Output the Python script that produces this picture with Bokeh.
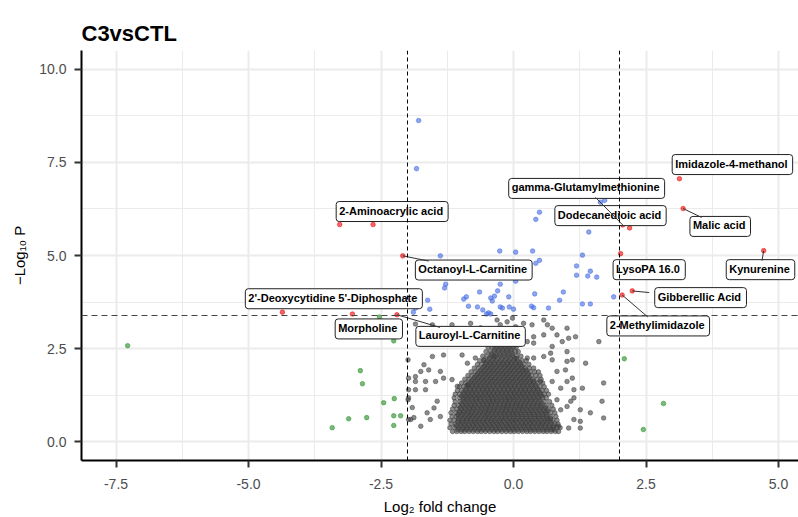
import math
from bokeh.plotting import figure
from bokeh.models import (Span, Range1d, FixedTicker, PrintfTickFormatter, ColumnDataSource,
                          LinearAxis)
from bokeh.embed import file_html
from bokeh.resources import INLINE
from bokeh.core.properties import value

# ---------------- data ----------------
title_text = "C3vsCTL"
x_label = "Log\u2082 fold change"
y_label = "\u2212Log\u2081\u2080 P"
x_ticks = [-7.5, -5.0, -2.5, 0.0, 2.5, 5.0]
x_minor = [-6.25, -3.75, -1.25, 1.25, 3.75]
y_ticks = [0.0, 2.5, 5.0, 7.5, 10.0]
y_minor = [1.25, 3.75, 6.25, 8.75]
fc_cutoff = 2.0
p_cutoff = 3.39

# significant (red): |log2FC| > 2 and -log10 P above cutoff
sig_names = ["", "2-Aminoacrylic acid", "Octanoyl-L-Carnitine",
             "2'-Deoxycytidine 5'-Diphosphate", "Morpholine", "Lauroyl-L-Carnitine",
             "Imidazole-4-methanol", "Malic acid", "gamma-Glutamylmethionine",
             "Dodecanedioic acid", "LysoPA 16.0", "Kynurenine", "Gibberellic Acid",
             "2-Methylimidazole"]
sig_x = [-3.28, -2.65, -2.09, -4.36, -3.04, -2.20, 3.13, 3.20, 2.06, 2.19, 2.02, 4.72, 2.24, 2.05]
sig_y = [5.83, 5.83, 4.99, 3.48, 3.43, 3.41, 7.06, 6.26, 5.82, 5.74, 5.05, 5.13, 4.05, 3.94]

# label box centres (layout of the repelled labels)
label_x = [None, -2.29, -0.75, -3.39, -2.73, -0.81, 4.13, 3.90, 1.38, 1.83, 2.56, 4.66, 3.53, 2.73]
label_y = [None, 6.18, 4.61, 3.84, 3.03, 2.83, 7.44, 5.78, 6.80, 6.07, 4.62, 4.62, 3.87, 3.11]

# P significant only (blue)
p_only_x = [-1.79, -1.83, 0.49, 0.42, 1.72, 1.64, 1.42, -1.38, -0.26, 0.04, 0.36, 0.49, 0.42,
            1.30, 1.19, 1.45, 1.19, 1.57, 0.04, -1.28, -1.30, -0.25, -0.64, -0.30, -0.36, 0.40,
            0.94, 0.87, 1.30, 1.45, 1.89, -0.94, -0.89, -0.85, -0.68, -0.58, -0.43, -0.40,
            -0.25, -0.21, -0.08, 0.00, 0.34, 0.38, 0.66, -1.62, -1.58, -1.89, -0.47, -0.43,
            -1.85, 1.40, -0.09, -0.51]
p_only_y = [8.62, 7.33, 6.16, 5.97, 6.48, 6.43, 5.63, 4.99, 5.12, 5.09, 5.12, 4.87, 4.79,
            5.01, 4.72, 4.58, 4.47, 4.42, 4.31, 4.23, 4.13, 4.23, 4.02, 4.05, 3.91, 3.97,
            4.02, 3.80, 3.70, 3.70, 3.89, 3.83, 3.89, 3.64, 3.62, 3.54, 3.86, 3.78,
            3.62, 3.59, 3.62, 3.56, 3.64, 3.60, 3.59, 3.80, 3.56, 3.48, 3.46, 3.43,
            3.59, 4.45, 3.89, 3.43]

# fold change only (green)
fc_only_x = [-7.28, -2.53, -2.26, -2.89, -2.85, -2.45, -2.25, -2.26, -2.13, -2.77, -3.11,
             -3.42, -2.26, 2.09, 2.83, 2.45]
fc_only_y = [2.58, 3.35, 2.71, 1.91, 1.56, 1.05, 1.16, 0.70, 0.70, 0.65, 0.62,
             0.38, 0.44, 2.23, 1.03, 0.33]

# not significant (grey): scattered outer points
ns_outer = [(-1.85, 3.16), (-1.53, 3.14), (-1.16, 3.14), (-1.13, 2.92), (-0.81, 3.18),
            (-0.62, 3.06), (-0.31, 3.27), (-0.25, 3.14), (-0.12, 3.22), (-0.02, 3.32),
            (0.04, 3.09), (0.19, 3.18), (0.35, 3.14), (0.38, 2.82), (0.57, 3.27),
            (0.64, 3.14), (0.73, 3.05), (0.57, 2.87), (0.82, 2.87), (1.01, 3.05),
            (1.04, 2.78), (0.92, 2.69), (1.17, 2.82), (1.61, 2.69), (0.38, 2.65),
            (0.26, 2.69), (0.73, 2.56), (-1.99, 2.20), (-1.53, 2.29), (-1.32, 2.33),
            (-0.97, 2.33), (-0.87, 2.11), (-0.72, 2.25), (-0.56, 2.20), (-0.37, 2.29),
            (0.26, 2.25), (0.38, 2.25), (0.57, 2.29), (0.70, 2.38), (0.73, 2.20),
            (1.01, 2.42), (1.11, 2.20), (1.01, 2.16), (1.36, 2.11), (-1.69, 2.07),
            (-1.75, 1.89), (-1.85, 1.75), (-1.60, 1.93), (-1.38, 1.89), (-1.32, 1.71),
            (-1.16, 1.67), (-1.47, 1.62), (-1.66, 1.62), (-1.85, 1.62), (-1.98, 1.40),
            (-1.85, 1.40), (-1.66, 1.40), (-1.06, 1.49), (-0.87, 1.53), (0.51, 1.62),
            (0.73, 1.62), (0.89, 1.44), (1.01, 1.62), (1.11, 1.71), (1.14, 1.40),
            (1.30, 1.44), (1.70, 1.58), (0.98, 1.93), (0.82, 1.89), (-1.99, 1.13),
            (-1.91, 0.92), (-1.88, 0.65), (-1.94, 0.60), (-1.75, 0.42), (-1.63, 0.78),
            (-1.50, 0.91), (-1.44, 1.09), (-1.38, 0.68), (-1.57, 0.60), (0.82, 1.13),
            (0.89, 0.86), (1.01, 0.95), (1.08, 1.09), (1.14, 1.18), (1.26, 0.86),
            (1.14, 0.60), (1.26, 0.55), (1.45, 0.78), (1.67, 1.09), (1.70, 0.64),
            (1.26, 0.37), (1.04, 0.37), (0.76, 0.33), (0.85, 0.42), (-1.98, 1.71),
            (-1.98, 1.18), (-1.98, 0.60)]

# not significant (grey): dense core, read row by row (-log10 P, list of log2 FC)
ns_core_rows = [
    (0.28, [-1.15, -1.07, -0.99, -0.92, -0.84, -0.76, -0.68, -0.61, -0.53, -0.45, -0.37, -0.30, -0.22,
            -0.14, -0.06, 0.01, 0.09, 0.17, 0.25, 0.32, 0.40, 0.48, 0.56, 0.63, 0.71, 0.79, 0.85]),
    (0.38, [-1.20, -1.11, -1.03, -0.95, -0.88, -0.80, -0.72, -0.64, -0.57, -0.49, -0.41, -0.33, -0.26,
            -0.18, -0.10, -0.02, 0.05, 0.13, 0.21, 0.29, 0.36, 0.44, 0.52, 0.60, 0.67, 0.75, 0.82, 0.88]),
    (0.48, [-1.18, -1.10, -1.01, -0.93, -0.85, -0.77, -0.70, -0.62, -0.54, -0.46, -0.39, -0.31, -0.23,
            -0.15, -0.08, 0.00, 0.08, 0.16, 0.23, 0.31, 0.39, 0.47, 0.54, 0.62, 0.70, 0.78, 0.84]),
    (0.58, [-1.20, -1.12, -1.04, -0.96, -0.88, -0.81, -0.73, -0.65, -0.57, -0.50, -0.42, -0.34, -0.26,
            -0.19, -0.11, -0.03, 0.04, 0.12, 0.20, 0.28, 0.35, 0.43, 0.51, 0.59, 0.66, 0.74, 0.82]),
    (0.68, [-1.16, -1.08, -1.00, -0.92, -0.84, -0.77, -0.69, -0.61, -0.53, -0.46, -0.38, -0.30, -0.22,
            -0.15, -0.07, 0.01, 0.09, 0.16, 0.24, 0.32, 0.40, 0.47, 0.55, 0.63, 0.71, 0.80]),
    (0.78, [-1.18, -1.09, -1.02, -0.94, -0.86, -0.79, -0.71, -0.63, -0.55, -0.48, -0.40, -0.32, -0.24,
            -0.17, -0.09, -0.01, 0.06, 0.14, 0.22, 0.30, 0.37, 0.45, 0.53, 0.61, 0.70, 0.78]),
    (0.88, [-1.15, -1.07, -0.99, -0.91, -0.83, -0.76, -0.68, -0.60, -0.52, -0.45, -0.37, -0.29, -0.21,
            -0.14, -0.06, 0.02, 0.10, 0.17, 0.25, 0.33, 0.41, 0.49, 0.57, 0.66, 0.75]),
    (0.98, [-1.12, -1.04, -0.96, -0.88, -0.80, -0.73, -0.65, -0.57, -0.49, -0.42, -0.34, -0.26, -0.18,
            -0.11, -0.03, 0.05, 0.12, 0.20, 0.28, 0.36, 0.44, 0.52, 0.62, 0.72]),
    (1.08, [-1.10, -1.01, -0.93, -0.85, -0.77, -0.70, -0.62, -0.54, -0.46, -0.39, -0.31, -0.23, -0.15,
            -0.08, 0.00, 0.08, 0.16, 0.24, 0.32, 0.40, 0.49, 0.58, 0.68]),
    (1.18, [-1.12, -1.02, -0.94, -0.86, -0.78, -0.70, -0.63, -0.55, -0.47, -0.40, -0.32, -0.24, -0.16,
            -0.09, -0.01, 0.07, 0.15, 0.23, 0.31, 0.39, 0.47, 0.55, 0.62]),
    (1.28, [-1.10, -1.02, -0.94, -0.86, -0.78, -0.70, -0.62, -0.54, -0.46, -0.38, -0.30, -0.22, -0.14,
            -0.06, 0.02, 0.10, 0.18, 0.26, 0.34, 0.42, 0.50, 0.58, 0.66]),
    (1.38, [-1.06, -0.98, -0.90, -0.82, -0.74, -0.66, -0.58, -0.50, -0.42, -0.34, -0.26, -0.18, -0.10,
            -0.02, 0.06, 0.14, 0.22, 0.30, 0.38, 0.46, 0.54, 0.62]),
    (1.48, [-1.02, -0.94, -0.86, -0.78, -0.70, -0.62, -0.54, -0.46, -0.38, -0.30, -0.22, -0.14, -0.06,
            0.02, 0.10, 0.18, 0.26, 0.34, 0.42, 0.50, 0.58]),
    (1.58, [-0.98, -0.90, -0.82, -0.74, -0.66, -0.58, -0.50, -0.42, -0.34, -0.26, -0.18, -0.10, -0.02,
            0.06, 0.14, 0.22, 0.30, 0.38, 0.46, 0.55]),
    (1.68, [-0.92, -0.84, -0.76, -0.68, -0.60, -0.52, -0.44, -0.36, -0.28, -0.20, -0.12, -0.04, 0.04,
            0.12, 0.20, 0.28, 0.36, 0.44, 0.52]),
    (1.78, [-0.86, -0.78, -0.70, -0.62, -0.54, -0.46, -0.38, -0.30, -0.22, -0.14, -0.06, 0.02, 0.10,
            0.18, 0.26, 0.34, 0.42, 0.50]),
    (1.88, [-0.80, -0.72, -0.64, -0.56, -0.48, -0.40, -0.32, -0.24, -0.16, -0.08, 0.00, 0.08, 0.16,
            0.24, 0.32, 0.40, 0.47]),
    (1.98, [-0.74, -0.66, -0.58, -0.50, -0.42, -0.34, -0.26, -0.18, -0.10, -0.02, 0.06, 0.14, 0.22,
            0.30, 0.38]),
    (2.08, [-0.68, -0.60, -0.52, -0.44, -0.36, -0.28, -0.20, -0.12, -0.04, 0.04, 0.12, 0.20, 0.29]),
    (2.18, [-0.64, -0.56, -0.48, -0.40, -0.32, -0.24, -0.16, -0.08, 0.00, 0.08, 0.16, 0.24]),
    (2.30, [-0.58, -0.50, -0.42, -0.34, -0.26, -0.18, -0.10, -0.02, 0.06, 0.14]),
    (2.42, [-0.52, -0.44, -0.36, -0.28, -0.20, -0.12, -0.04, 0.04, 0.09]),
    (2.54, [-0.48, -0.40, -0.32, -0.24, -0.16, -0.08, 0.00, 0.05]),
    (2.66, [-0.42, -0.34, -0.26, -0.18, -0.10, -0.02]),
    (2.78, [-0.38, -0.30, -0.22, -0.14, -0.06]),
    (2.90, [-0.34, -0.26, -0.18, -0.10]),
    (3.02, [-0.28, -0.19, -0.11]),
    # second, offset layer inside the core (the dark mass)
    (0.33, [-1.05, -0.97, -0.89, -0.81, -0.73, -0.65, -0.57, -0.49, -0.41, -0.33, -0.25, -0.17,
            -0.09, -0.01, 0.07, 0.15, 0.23, 0.31, 0.39, 0.47, 0.55, 0.63, 0.71]),
    (0.43, [-1.08, -1.00, -0.92, -0.84, -0.76, -0.68, -0.60, -0.52, -0.44, -0.36, -0.28, -0.20,
            -0.12, -0.04, 0.04, 0.12, 0.20, 0.28, 0.36, 0.44, 0.52, 0.60, 0.68, 0.76]),
    (0.53, [-1.05, -0.97, -0.89, -0.81, -0.73, -0.65, -0.57, -0.49, -0.41, -0.33, -0.25, -0.17,
            -0.09, -0.01, 0.07, 0.15, 0.23, 0.31, 0.39, 0.47, 0.55, 0.63, 0.71]),
    (0.63, [-1.04, -0.96, -0.88, -0.80, -0.72, -0.64, -0.56, -0.48, -0.40, -0.32, -0.24, -0.16,
            -0.08, 0.00, 0.08, 0.16, 0.24, 0.32, 0.40, 0.48, 0.56, 0.64, 0.70]),
    (0.73, [-1.05, -0.97, -0.89, -0.81, -0.73, -0.65, -0.57, -0.49, -0.41, -0.33, -0.25, -0.17,
            -0.09, -0.01, 0.07, 0.15, 0.23, 0.31, 0.39, 0.47, 0.55, 0.63]),
    (0.83, [-1.02, -0.94, -0.86, -0.78, -0.70, -0.62, -0.54, -0.46, -0.38, -0.30, -0.22, -0.14,
            -0.06, 0.02, 0.10, 0.18, 0.26, 0.34, 0.42, 0.50, 0.58, 0.65]),
    (0.93, [-1.00, -0.92, -0.84, -0.76, -0.68, -0.60, -0.52, -0.44, -0.36, -0.28, -0.20, -0.12,
            -0.04, 0.04, 0.12, 0.20, 0.28, 0.36, 0.44, 0.52, 0.60]),
    (1.03, [-0.98, -0.90, -0.82, -0.74, -0.66, -0.58, -0.50, -0.42, -0.34, -0.26, -0.18, -0.10,
            -0.02, 0.06, 0.14, 0.22, 0.30, 0.38, 0.46, 0.54]),
    (1.13, [-0.95, -0.87, -0.79, -0.71, -0.63, -0.55, -0.47, -0.39, -0.31, -0.23, -0.15, -0.07,
            0.01, 0.09, 0.17, 0.25, 0.33, 0.41, 0.49]),
    (1.23, [-0.98, -0.90, -0.82, -0.74, -0.66, -0.58, -0.50, -0.42, -0.34, -0.26, -0.18, -0.10,
            -0.02, 0.06, 0.14, 0.22, 0.30, 0.38, 0.46, 0.54]),
    (1.33, [-0.94, -0.86, -0.78, -0.70, -0.62, -0.54, -0.46, -0.38, -0.30, -0.22, -0.14, -0.06,
            0.02, 0.10, 0.18, 0.26, 0.34, 0.42, 0.50]),
    (1.43, [-0.90, -0.82, -0.74, -0.66, -0.58, -0.50, -0.42, -0.34, -0.26, -0.18, -0.10, -0.02,
            0.06, 0.14, 0.22, 0.30, 0.38, 0.46]),
    (1.53, [-0.86, -0.78, -0.70, -0.62, -0.54, -0.46, -0.38, -0.30, -0.22, -0.14, -0.06, 0.02,
            0.10, 0.18, 0.26, 0.34, 0.42]),
    (1.63, [-0.80, -0.72, -0.64, -0.56, -0.48, -0.40, -0.32, -0.24, -0.16, -0.08, 0.00, 0.08,
            0.16, 0.24, 0.32, 0.38]),
    (1.73, [-0.74, -0.66, -0.58, -0.50, -0.42, -0.34, -0.26, -0.18, -0.10, -0.02, 0.06, 0.14,
            0.22, 0.30]),
    (1.83, [-0.68, -0.60, -0.52, -0.44, -0.36, -0.28, -0.20, -0.12, -0.04, 0.04, 0.12, 0.20, 0.28]),
    (1.93, [-0.62, -0.54, -0.46, -0.38, -0.30, -0.22, -0.14, -0.06, 0.02, 0.10, 0.18, 0.24]),
    (2.03, [-0.56, -0.48, -0.40, -0.32, -0.24, -0.16, -0.08, 0.00, 0.08, 0.16]),
    (2.13, [-0.52, -0.44, -0.36, -0.28, -0.20, -0.12, -0.04, 0.04, 0.12]),
    (2.24, [-0.46, -0.38, -0.30, -0.22, -0.14, -0.06, 0.02, 0.06]),
    (2.36, [-0.42, -0.34, -0.26, -0.18, -0.10, -0.02]),
    (2.48, [-0.36, -0.28, -0.20, -0.12, -0.04]),
    (2.60, [-0.32, -0.24, -0.16, -0.08]),
]

ns_x = [pt[0] for pt in ns_outer]
ns_y = [pt[1] for pt in ns_outer]
for ry, xs in ns_core_rows:
    for xv in xs:
        ns_x.append(xv)
        ns_y.append(ry)

# ---------------- figure ----------------
X0, X1 = -8.151, 5.377
Y0, Y1 = -0.5, 10.5
W, H = 798, 517
BL, BR, BT, BB = 81, 0, 50, 56

p = figure(width=W, height=H, output_backend="svg", toolbar_location=None,
           x_range=Range1d(X0, X1), y_range=Range1d(Y0, Y1),
           min_border_left=BL, min_border_right=BR, min_border_top=BT, min_border_bottom=BB,
           title=title_text)
p.outline_line_color = None
p.background_fill_color = "white"
p.border_fill_color = "white"

p.title.text_font = "Liberation Sans"
p.title.text_font_size = "22px"
p.title.text_font_style = "bold"
p.title.text_color = "black"
p.title.align = "left"

sx = (W - BL - BR) / (X1 - X0)
sy = (H - BT - BB) / (Y1 - Y0)

main_x = p.below[0]
main_y = p.left[0]
for ax, ticks, minor, lab, lstand, astand in (
        (main_x, x_ticks, x_minor, x_label, 11, 6),
        (main_y, y_ticks, y_minor, y_label, 8, 8)):
    ax.ticker = FixedTicker(ticks=ticks, minor_ticks=minor)
    ax.formatter = PrintfTickFormatter(format="%.1f")
    ax.axis_label = lab
    ax.axis_label_text_font = "Liberation Sans"
    ax.axis_label_text_font_size = "15px"
    ax.axis_label_text_font_style = "normal"
    ax.axis_label_text_color = "black"
    ax.major_label_text_font = "Liberation Sans"
    ax.major_label_text_font_size = "14px"
    ax.major_label_text_color = "#4D4D4D"
    ax.axis_line_color = "black"
    ax.axis_line_width = 2
    ax.major_tick_line_color = "#333333"
    ax.major_tick_line_width = 2
    ax.major_tick_out = 7
    ax.major_tick_in = 0
    ax.minor_tick_line_color = None
    ax.major_label_standoff = lstand
    ax.axis_label_standoff = astand

# invisible spacer between the plotting area and the title, so the title sits higher
spacer = LinearAxis(ticker=FixedTicker(ticks=[]), axis_line_color=None,
                    major_tick_line_color=None, minor_tick_line_color=None,
                    major_tick_out=10, major_tick_in=0, minor_tick_out=0, minor_tick_in=0,
                    major_label_standoff=0, axis_label=None)
p.add_layout(spacer, "above")

for g in (p.xgrid[0], p.ygrid[0]):
    g.grid_line_color = "#EBEBEB"
    g.grid_line_width = 2
    g.minor_grid_line_color = "#EBEBEB"
    g.minor_grid_line_width = 1

# cutoff lines
for loc in (-fc_cutoff, fc_cutoff):
    p.add_layout(Span(location=loc, dimension="height", line_color="black",
                      line_dash="4 3", line_width=1))
p.add_layout(Span(location=p_cutoff, dimension="width", line_color="#444444",
                  line_dash="6 4", line_width=1.2))

# points (semi-transparent fill and rim, like ggplot's shape 19 with alpha)
PS = 4.6
for xs_, ys_, col in ((ns_x, ns_y, "#404040"), (fc_only_x, fc_only_y, "#228B22"),
                      (p_only_x, p_only_y, "#4169E1"), (sig_x, sig_y, "#EE0000")):
    p.scatter(xs_, ys_, size=PS, fill_color=col, fill_alpha=0.6,
              line_color=col, line_alpha=0.5, line_width=1)

# connectors (point -> label box edge along the line to the box centre)
seg_x0, seg_y0, seg_x1, seg_y1 = [], [], [], []
lab_x, lab_y, lab_t = [], [], []
for name, px_, py_, lx, ly in zip(sig_names, sig_x, sig_y, label_x, label_y):
    if not name:
        continue
    lab_x.append(lx); lab_y.append(ly); lab_t.append(name)
    hw = len(name) * 5.8 / 2 + 5
    hh = 9
    ux = (px_ - lx) * sx
    uy = (py_ - ly) * sy
    gx = max(abs(ux) - hw, 0)
    gy = max(abs(uy) - hh, 0)
    if math.hypot(gx, gy) <= 7.2:
        continue
    tx = hw / abs(ux) if ux != 0 else 1e9
    ty = hh / abs(uy) if uy != 0 else 1e9
    t = min(tx, ty)
    seg_x0.append(px_); seg_y0.append(py_)
    seg_x1.append(lx + t * ux / sx); seg_y1.append(ly + t * uy / sy)

src = ColumnDataSource(dict(x=lab_x, y=lab_y, t=lab_t))
p.text(x="x", y="y", text="t", source=src, text_align="center", text_baseline="middle",
       text_font=value("Liberation Sans"), text_font_style="bold", text_font_size="11px",
       text_color="black", background_fill_color="white", border_line_color="#222222",
       border_line_width=1, padding=(3, 5, 3, 5), border_radius=3)

p.segment(seg_x0, seg_y0, seg_x1, seg_y1, line_color="#333333", line_width=1)

open("out.html", "w").write(file_html(p, INLINE))
